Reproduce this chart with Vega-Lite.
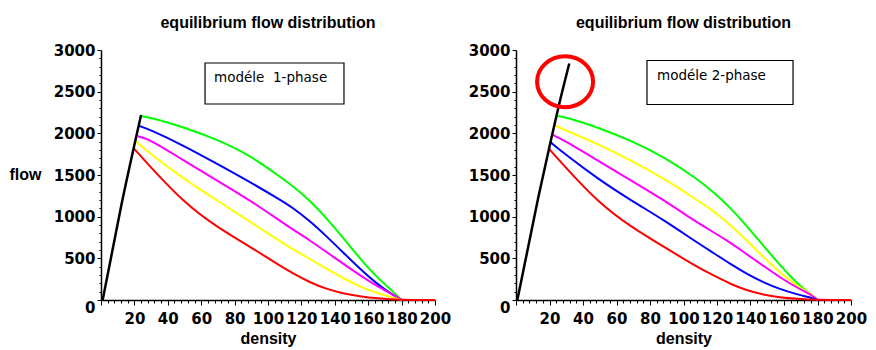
{
  "$schema": "https://vega.github.io/schema/vega-lite/v6.json",
  "padding": {"left": 9, "top": 15, "right": 5, "bottom": 2},
  "bounds": "flush",
  "spacing": 81,
  "config": {
    "view": {"stroke": null},
    "font": "Liberation Sans",
    "axis": {
      "grid": false,
      "domainColor": "black",
      "domainWidth": 1.5,
      "tickColor": "black",
      "tickWidth": 1,
      "labelColor": "black",
      "labelFont": "DejaVu Sans",
      "labelFontWeight": "bold",
      "labelFontSize": 15,
      "titleFont": "Liberation Sans",
      "titleFontWeight": "bold",
      "titleFontSize": 16,
      "titleColor": "black"
    },
    "title": {"font": "Liberation Sans", "fontSize": 16, "fontWeight": "bold", "color": "black", "frame": "group", "anchor": "middle", "baseline": "alphabetic", "offset": 12}
  },
  "datasets": {
    "curves": [
      {"panel": "1-phase", "curve": "free flow", "density": 1, "flow": 0},
      {"panel": "1-phase", "curve": "free flow", "density": 12, "flow": 1120},
      {"panel": "1-phase", "curve": "free flow", "density": 24, "flow": 2220},
      {"panel": "1-phase", "curve": "case 1", "density": 23.4, "flow": 2208},
      {"panel": "1-phase", "curve": "case 1", "density": 29.3, "flow": 2192},
      {"panel": "1-phase", "curve": "case 1", "density": 49.3, "flow": 2076},
      {"panel": "1-phase", "curve": "case 1", "density": 69.3, "flow": 1928},
      {"panel": "1-phase", "curve": "case 1", "density": 89.2, "flow": 1736},
      {"panel": "1-phase", "curve": "case 1", "density": 107.2, "flow": 1480},
      {"panel": "1-phase", "curve": "case 1", "density": 115, "flow": 1365},
      {"panel": "1-phase", "curve": "case 1", "density": 125, "flow": 1196},
      {"panel": "1-phase", "curve": "case 1", "density": 135, "flow": 985},
      {"panel": "1-phase", "curve": "case 1", "density": 145, "flow": 745},
      {"panel": "1-phase", "curve": "case 1", "density": 155, "flow": 500},
      {"panel": "1-phase", "curve": "case 1", "density": 165, "flow": 275},
      {"panel": "1-phase", "curve": "case 1", "density": 175, "flow": 100},
      {"panel": "1-phase", "curve": "case 1", "density": 180, "flow": 0},
      {"panel": "1-phase", "curve": "case 2", "density": 23, "flow": 2088},
      {"panel": "1-phase", "curve": "case 2", "density": 29.3, "flow": 2044},
      {"panel": "1-phase", "curve": "case 2", "density": 49.3, "flow": 1856},
      {"panel": "1-phase", "curve": "case 2", "density": 69.3, "flow": 1636},
      {"panel": "1-phase", "curve": "case 2", "density": 89.2, "flow": 1416},
      {"panel": "1-phase", "curve": "case 2", "density": 107.2, "flow": 1204},
      {"panel": "1-phase", "curve": "case 2", "density": 115, "flow": 1105},
      {"panel": "1-phase", "curve": "case 2", "density": 125, "flow": 950},
      {"panel": "1-phase", "curve": "case 2", "density": 135, "flow": 765},
      {"panel": "1-phase", "curve": "case 2", "density": 145, "flow": 570},
      {"panel": "1-phase", "curve": "case 2", "density": 155, "flow": 375},
      {"panel": "1-phase", "curve": "case 2", "density": 165, "flow": 196},
      {"panel": "1-phase", "curve": "case 2", "density": 175, "flow": 56},
      {"panel": "1-phase", "curve": "case 2", "density": 180, "flow": 0},
      {"panel": "1-phase", "curve": "case 3", "density": 22, "flow": 1964},
      {"panel": "1-phase", "curve": "case 3", "density": 29.3, "flow": 1928},
      {"panel": "1-phase", "curve": "case 3", "density": 49.3, "flow": 1676},
      {"panel": "1-phase", "curve": "case 3", "density": 69.3, "flow": 1436},
      {"panel": "1-phase", "curve": "case 3", "density": 89.2, "flow": 1196},
      {"panel": "1-phase", "curve": "case 3", "density": 107.2, "flow": 950},
      {"panel": "1-phase", "curve": "case 3", "density": 115, "flow": 845},
      {"panel": "1-phase", "curve": "case 3", "density": 125, "flow": 716},
      {"panel": "1-phase", "curve": "case 3", "density": 135, "flow": 576},
      {"panel": "1-phase", "curve": "case 3", "density": 145, "flow": 436},
      {"panel": "1-phase", "curve": "case 3", "density": 155, "flow": 296},
      {"panel": "1-phase", "curve": "case 3", "density": 165, "flow": 170},
      {"panel": "1-phase", "curve": "case 3", "density": 175, "flow": 62},
      {"panel": "1-phase", "curve": "case 3", "density": 180, "flow": 0},
      {"panel": "1-phase", "curve": "case 4", "density": 21, "flow": 1904},
      {"panel": "1-phase", "curve": "case 4", "density": 29.3, "flow": 1756},
      {"panel": "1-phase", "curve": "case 4", "density": 49.3, "flow": 1456},
      {"panel": "1-phase", "curve": "case 4", "density": 69.3, "flow": 1196},
      {"panel": "1-phase", "curve": "case 4", "density": 89.2, "flow": 940},
      {"panel": "1-phase", "curve": "case 4", "density": 107.2, "flow": 705},
      {"panel": "1-phase", "curve": "case 4", "density": 115, "flow": 608},
      {"panel": "1-phase", "curve": "case 4", "density": 125, "flow": 492},
      {"panel": "1-phase", "curve": "case 4", "density": 135, "flow": 376},
      {"panel": "1-phase", "curve": "case 4", "density": 145, "flow": 262},
      {"panel": "1-phase", "curve": "case 4", "density": 155, "flow": 160},
      {"panel": "1-phase", "curve": "case 4", "density": 165, "flow": 84},
      {"panel": "1-phase", "curve": "case 4", "density": 175, "flow": 28},
      {"panel": "1-phase", "curve": "case 4", "density": 180, "flow": 0},
      {"panel": "1-phase", "curve": "case 5", "density": 19.8, "flow": 1816},
      {"panel": "1-phase", "curve": "case 5", "density": 29.3, "flow": 1604},
      {"panel": "1-phase", "curve": "case 5", "density": 49.3, "flow": 1176},
      {"panel": "1-phase", "curve": "case 5", "density": 69.3, "flow": 876},
      {"panel": "1-phase", "curve": "case 5", "density": 89.2, "flow": 640},
      {"panel": "1-phase", "curve": "case 5", "density": 107.2, "flow": 410},
      {"panel": "1-phase", "curve": "case 5", "density": 115, "flow": 318},
      {"panel": "1-phase", "curve": "case 5", "density": 125, "flow": 212},
      {"panel": "1-phase", "curve": "case 5", "density": 135, "flow": 132},
      {"panel": "1-phase", "curve": "case 5", "density": 145, "flow": 78},
      {"panel": "1-phase", "curve": "case 5", "density": 155, "flow": 44},
      {"panel": "1-phase", "curve": "case 5", "density": 165, "flow": 20},
      {"panel": "1-phase", "curve": "case 5", "density": 180, "flow": 0},
      {"panel": "1-phase", "curve": "case 5", "density": 200, "flow": 0},
      {"panel": "2-phase", "curve": "free flow", "density": 0.8, "flow": 0},
      {"panel": "2-phase", "curve": "free flow", "density": 13.3, "flow": 1230},
      {"panel": "2-phase", "curve": "free flow", "density": 20.3, "flow": 1870},
      {"panel": "2-phase", "curve": "free flow", "density": 25.3, "flow": 2310},
      {"panel": "2-phase", "curve": "free flow", "density": 31.8, "flow": 2838},
      {"panel": "2-phase", "curve": "case 1", "density": 24.3, "flow": 2210},
      {"panel": "2-phase", "curve": "case 1", "density": 29.3, "flow": 2196},
      {"panel": "2-phase", "curve": "case 1", "density": 49.1, "flow": 2070},
      {"panel": "2-phase", "curve": "case 1", "density": 69.1, "flow": 1910},
      {"panel": "2-phase", "curve": "case 1", "density": 89, "flow": 1710},
      {"panel": "2-phase", "curve": "case 1", "density": 106.9, "flow": 1470},
      {"panel": "2-phase", "curve": "case 1", "density": 117.8, "flow": 1300},
      {"panel": "2-phase", "curve": "case 1", "density": 127.8, "flow": 1110},
      {"panel": "2-phase", "curve": "case 1", "density": 137.7, "flow": 890},
      {"panel": "2-phase", "curve": "case 1", "density": 147.7, "flow": 650},
      {"panel": "2-phase", "curve": "case 1", "density": 157.6, "flow": 420},
      {"panel": "2-phase", "curve": "case 1", "density": 167.6, "flow": 200},
      {"panel": "2-phase", "curve": "case 1", "density": 177.5, "flow": 45},
      {"panel": "2-phase", "curve": "case 1", "density": 180, "flow": 0},
      {"panel": "2-phase", "curve": "case 4", "density": 23, "flow": 2098},
      {"panel": "2-phase", "curve": "case 4", "density": 29.3, "flow": 2038},
      {"panel": "2-phase", "curve": "case 4", "density": 49.1, "flow": 1870},
      {"panel": "2-phase", "curve": "case 4", "density": 69.1, "flow": 1670},
      {"panel": "2-phase", "curve": "case 4", "density": 89, "flow": 1450},
      {"panel": "2-phase", "curve": "case 4", "density": 106.9, "flow": 1215},
      {"panel": "2-phase", "curve": "case 4", "density": 117.8, "flow": 1070},
      {"panel": "2-phase", "curve": "case 4", "density": 127.8, "flow": 905},
      {"panel": "2-phase", "curve": "case 4", "density": 137.7, "flow": 715},
      {"panel": "2-phase", "curve": "case 4", "density": 147.7, "flow": 515},
      {"panel": "2-phase", "curve": "case 4", "density": 157.6, "flow": 330},
      {"panel": "2-phase", "curve": "case 4", "density": 167.6, "flow": 170},
      {"panel": "2-phase", "curve": "case 4", "density": 177.5, "flow": 55},
      {"panel": "2-phase", "curve": "case 4", "density": 180, "flow": 0},
      {"panel": "2-phase", "curve": "case 3", "density": 21.9, "flow": 1982},
      {"panel": "2-phase", "curve": "case 3", "density": 29.3, "flow": 1910},
      {"panel": "2-phase", "curve": "case 3", "density": 49.1, "flow": 1670},
      {"panel": "2-phase", "curve": "case 3", "density": 69.1, "flow": 1430},
      {"panel": "2-phase", "curve": "case 3", "density": 89, "flow": 1190},
      {"panel": "2-phase", "curve": "case 3", "density": 106.9, "flow": 945},
      {"panel": "2-phase", "curve": "case 3", "density": 117.8, "flow": 815},
      {"panel": "2-phase", "curve": "case 3", "density": 127.8, "flow": 690},
      {"panel": "2-phase", "curve": "case 3", "density": 137.7, "flow": 550},
      {"panel": "2-phase", "curve": "case 3", "density": 147.7, "flow": 410},
      {"panel": "2-phase", "curve": "case 3", "density": 157.6, "flow": 270},
      {"panel": "2-phase", "curve": "case 3", "density": 167.6, "flow": 150},
      {"panel": "2-phase", "curve": "case 3", "density": 177.5, "flow": 48},
      {"panel": "2-phase", "curve": "case 3", "density": 180, "flow": 0},
      {"panel": "2-phase", "curve": "case 2", "density": 20.3, "flow": 1898},
      {"panel": "2-phase", "curve": "case 2", "density": 29.3, "flow": 1750},
      {"panel": "2-phase", "curve": "case 2", "density": 49.1, "flow": 1450},
      {"panel": "2-phase", "curve": "case 2", "density": 69.1, "flow": 1190},
      {"panel": "2-phase", "curve": "case 2", "density": 89, "flow": 950},
      {"panel": "2-phase", "curve": "case 2", "density": 106.9, "flow": 705},
      {"panel": "2-phase", "curve": "case 2", "density": 117.8, "flow": 565},
      {"panel": "2-phase", "curve": "case 2", "density": 127.8, "flow": 435},
      {"panel": "2-phase", "curve": "case 2", "density": 137.7, "flow": 315},
      {"panel": "2-phase", "curve": "case 2", "density": 147.7, "flow": 212},
      {"panel": "2-phase", "curve": "case 2", "density": 157.6, "flow": 130},
      {"panel": "2-phase", "curve": "case 2", "density": 167.6, "flow": 68},
      {"panel": "2-phase", "curve": "case 2", "density": 177.5, "flow": 20},
      {"panel": "2-phase", "curve": "case 2", "density": 180, "flow": 0},
      {"panel": "2-phase", "curve": "case 5", "density": 19.9, "flow": 1810},
      {"panel": "2-phase", "curve": "case 5", "density": 29.3, "flow": 1598},
      {"panel": "2-phase", "curve": "case 5", "density": 49.1, "flow": 1170},
      {"panel": "2-phase", "curve": "case 5", "density": 69.1, "flow": 870},
      {"panel": "2-phase", "curve": "case 5", "density": 89, "flow": 630},
      {"panel": "2-phase", "curve": "case 5", "density": 106.9, "flow": 410},
      {"panel": "2-phase", "curve": "case 5", "density": 117.8, "flow": 295},
      {"panel": "2-phase", "curve": "case 5", "density": 127.8, "flow": 195},
      {"panel": "2-phase", "curve": "case 5", "density": 137.7, "flow": 115},
      {"panel": "2-phase", "curve": "case 5", "density": 147.7, "flow": 64},
      {"panel": "2-phase", "curve": "case 5", "density": 157.6, "flow": 32},
      {"panel": "2-phase", "curve": "case 5", "density": 167.6, "flow": 14},
      {"panel": "2-phase", "curve": "case 5", "density": 180, "flow": 0},
      {"panel": "2-phase", "curve": "case 5", "density": 200, "flow": 0}
    ],
    "boxes": [
      {"panel": "1-phase", "label": "modéle\u00a0\u00a01-phase", "density": 62.3, "density2": 145.5, "flow": 2352, "flow2": 2844, "tx": 67.7, "ty": 2616},
      {"panel": "2-phase", "label": "modéle 2-phase", "density": 78.2, "density2": 165.4, "flow": 2346, "flow2": 2874, "tx": 84.2, "ty": 2638}
    ],
    "highlight": [
      {"panel": "2-phase", "density": 29.3, "flow": 2620}
    ]
  },
  "hconcat": [
    {
      "width": 334,
      "height": 250,
      "title": "equilibrium flow distribution",
      "encoding": {
        "x": {
          "field": "density", "type": "quantitative",
          "scale": {"domain": [0, 200], "nice": false},
          "axis": {
            "title": "density",
            "values": [0,4,8,12,16,20,24,28,32,36,40,44,48,52,56,60,64,68,72,76,80,84,88,92,96,100,104,108,112,116,120,124,128,132,136,140,144,148,152,156,160,164,168,172,176,180,184,188,192,196,200],
            "labelExpr": "(datum.value % 20 == 0 && datum.value > 0) ? datum.label : ''",
            "tickSize": {"condition": {"test": "datum.value % 20 == 0", "value": 5}, "value": 3},
            "labelPadding": 6,
            "labelOverlap": false,
            "labelFlush": false,
            "titlePadding": 4
          }
        },
        "y": {
          "field": "flow", "type": "quantitative",
          "scale": {"domain": [0, 3000], "nice": false},
          "axis": {
            "title": "flow",
            "titleAngle": 0,
            "titleX": -76,
            "titleY": 129,
            "titleAlign": "center",
            "titleBaseline": "alphabetic",
            "values": [0,100,200,300,400,500,600,700,800,900,1000,1100,1200,1300,1400,1500,1600,1700,1800,1900,2000,2100,2200,2300,2400,2500,2600,2700,2800,2900,3000],
            "format": "d",
            "labelExpr": "datum.value % 500 == 0 ? datum.label : ''",
            "tickSize": {"condition": {"test": "datum.value % 500 == 0", "value": 4}, "value": 2},
            "labelBaseline": {"condition": {"test": "datum.value == 0", "value": "top"}, "value": "middle"},
            "labelPadding": 2,
            "labelOverlap": false
          }
        }
      },
      "layer": [
        {
          "data": {"name": "curves"},
          "transform": [{"filter": "datum.panel == '1-phase' && datum.curve != 'free flow'"}],
          "mark": {"type": "line", "strokeWidth": 2, "interpolate": "basis"},
          "encoding": {
            "color": {"field": "curve", "type": "nominal", "legend": null,
              "scale": {"domain": ["case 1", "case 2", "case 3", "case 4", "case 5"], "range": ["#00ff00", "#0000ff", "#ff00ff", "#ffff00", "#ff0000"]}}
          }
        },
        {
          "data": {"name": "curves"},
          "transform": [{"filter": "datum.panel == '1-phase' && datum.curve == 'free flow'"}],
          "mark": {"type": "line", "strokeWidth": 2.5, "color": "black", "interpolate": "monotone"},
          "encoding": {}
        },
        {
          "data": {"name": "boxes"},
          "transform": [{"filter": "datum.panel == '1-phase'"}],
          "mark": {"type": "rect", "filled": false, "stroke": "black", "strokeWidth": 1.2},
          "encoding": {"x2": {"field": "density2"}, "y2": {"field": "flow2"}}
        },
        {
          "data": {"name": "boxes"},
          "transform": [{"filter": "datum.panel == '1-phase'"}],
          "mark": {"type": "text", "align": "left", "baseline": "alphabetic", "font": "DejaVu Sans", "fontSize": 13.5, "color": "black"},
          "encoding": {
            "x": {"field": "tx", "type": "quantitative"},
            "y": {"field": "ty", "type": "quantitative"},
            "text": {"field": "label"}
          }
        }
      ]
    },
    {
      "width": 335,
      "height": 250,
      "title": "equilibrium flow distribution",
      "encoding": {
        "x": {
          "field": "density", "type": "quantitative",
          "scale": {"domain": [0, 200], "nice": false},
          "axis": {
            "title": "density",
            "values": [0,4,8,12,16,20,24,28,32,36,40,44,48,52,56,60,64,68,72,76,80,84,88,92,96,100,104,108,112,116,120,124,128,132,136,140,144,148,152,156,160,164,168,172,176,180,184,188,192,196,200],
            "labelExpr": "(datum.value % 20 == 0 && datum.value > 0) ? datum.label : ''",
            "tickSize": {"condition": {"test": "datum.value % 20 == 0", "value": 5}, "value": 3},
            "labelPadding": 6,
            "labelOverlap": false,
            "labelFlush": false,
            "titlePadding": 4
          }
        },
        "y": {
          "field": "flow", "type": "quantitative",
          "scale": {"domain": [0, 3000], "nice": false},
          "axis": {
            "title": null,
            "values": [0,100,200,300,400,500,600,700,800,900,1000,1100,1200,1300,1400,1500,1600,1700,1800,1900,2000,2100,2200,2300,2400,2500,2600,2700,2800,2900,3000],
            "format": "d",
            "labelExpr": "datum.value % 500 == 0 ? datum.label : ''",
            "tickSize": {"condition": {"test": "datum.value % 500 == 0", "value": 4}, "value": 2},
            "labelBaseline": {"condition": {"test": "datum.value == 0", "value": "top"}, "value": "middle"},
            "labelPadding": 2,
            "labelOverlap": false
          }
        }
      },
      "layer": [
        {
          "data": {"name": "curves"},
          "transform": [{"filter": "datum.panel == '2-phase' && datum.curve != 'free flow'"}],
          "mark": {"type": "line", "strokeWidth": 2, "interpolate": "basis"},
          "encoding": {
            "color": {"field": "curve", "type": "nominal", "legend": null,
              "scale": {"domain": ["case 1", "case 2", "case 3", "case 4", "case 5"], "range": ["#00ff00", "#0000ff", "#ff00ff", "#ffff00", "#ff0000"]}}
          }
        },
        {
          "data": {"name": "curves"},
          "transform": [{"filter": "datum.panel == '2-phase' && datum.curve == 'free flow'"}],
          "mark": {"type": "line", "strokeWidth": 2.5, "color": "black", "interpolate": "monotone"},
          "encoding": {}
        },
        {
          "data": {"name": "boxes"},
          "transform": [{"filter": "datum.panel == '2-phase'"}],
          "mark": {"type": "rect", "filled": false, "stroke": "black", "strokeWidth": 1.2},
          "encoding": {"x2": {"field": "density2"}, "y2": {"field": "flow2"}}
        },
        {
          "data": {"name": "boxes"},
          "transform": [{"filter": "datum.panel == '2-phase'"}],
          "mark": {"type": "text", "align": "left", "baseline": "alphabetic", "font": "DejaVu Sans", "fontSize": 13.5, "color": "black"},
          "encoding": {
            "x": {"field": "tx", "type": "quantitative"},
            "y": {"field": "ty", "type": "quantitative"},
            "text": {"field": "label"}
          }
        },
        {
          "data": {"name": "highlight"},
          "transform": [{"filter": "datum.panel == '2-phase'"}],
          "mark": {"type": "point", "shape": "M-1,0A1,0.91,0,1,0,1,0A1,0.91,0,1,0,-1,0Z", "size": 3136, "filled": false, "stroke": "#ff0000", "strokeWidth": 4, "opacity": 1},
          "encoding": {}
        }
      ]
    }
  ]
}
